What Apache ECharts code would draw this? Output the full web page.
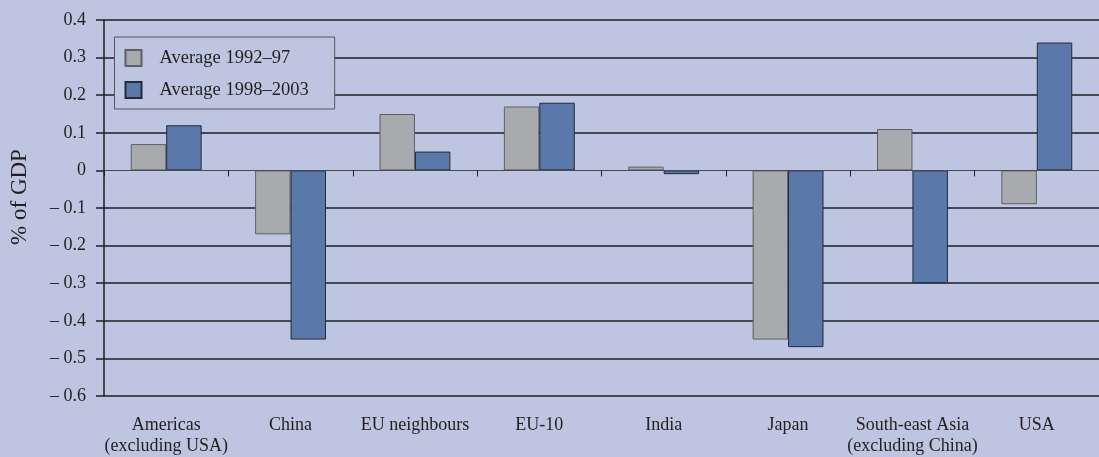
<!DOCTYPE html>
<html>
<head>
<meta charset="utf-8">
<script src="https://cdn.jsdelivr.net/npm/echarts@6/dist/echarts.min.js"></script>
<style>
  html, body { margin: 0; padding: 0; background: #bec5e0; }
  #chart { width: 1099px; height: 457px; }
</style>
</head>
<body>
<div id="chart"></div>
<script>
// Regions shown along the category axis
const categories = [
  'Americas\n(excluding USA)', 'China', 'EU neighbours', 'EU-10',
  'India', 'Japan', 'South-east Asia\n(excluding China)', 'USA'
];
// Balance as % of GDP, two averaging periods
const avg1992_97   = [0.07, -0.17, 0.15, 0.17, 0.01, -0.45, 0.11, -0.09];
const avg1998_2003 = [0.12, -0.45, 0.05, 0.18, -0.01, -0.47, -0.30, 0.34];
const seriesNames = ['Average 1992–97', 'Average 1998–2003'];
// Value axis ticks, bottom to top
const yTicks = [-0.6, -0.5, -0.4, -0.3, -0.2, -0.1, 0, 0.1, 0.2, 0.3, 0.4];

const serif = '"Liberation Serif", "DejaVu Serif", serif';
const ink = '#231f20';

// Dark gridlines everywhere except at zero, where the category axis line sits
const gridColors = yTicks.map(v => (Math.abs(v) < 1e-9 ? 'rgba(0,0,0,0)' : '#1e1e22'));

function fmtTick(v) {
  const r = Math.round(v * 10) / 10;
  if (r === 0) return '0';
  if (r < 0) return '\u2013 ' + Math.abs(r).toFixed(1);
  return r.toFixed(1);
}

const chart = echarts.init(document.getElementById('chart'), null, { renderer: 'canvas' });
chart.setOption({
  backgroundColor: '#bec5e0',
  animation: false,
  textStyle: { fontFamily: serif, color: ink },
  // the plot runs slightly past the right edge of the canvas
  grid: { left: 101.5, width: 1004, top: 20, bottom: 59, containLabel: false },
  legend: {
    orient: 'vertical',
    left: 114.5,
    top: 37,
    data: seriesNames,
    backgroundColor: '#bec5e0',
    borderColor: '#55565c',
    borderWidth: 1,
    padding: [11.5, 26, 9.5, 10],
    itemWidth: 16,
    itemHeight: 16,
    itemGap: 13,
    icon: 'rect',
    textStyle: {
      fontFamily: serif, fontSize: 18.5, color: ink,
      padding: [0, 0, 0, 13]
    }
  },
  xAxis: [
    {
      type: 'category',
      data: categories,
      axisLine: { onZero: true, lineStyle: { color: '#4a4b52', width: 1 } },
      axisTick: { show: true, inside: false, length: 6, lineStyle: { color: '#1e1e22', width: 1 } },
      axisLabel: { show: false },
      splitLine: { show: false },
      z: 5
    },
    {
      type: 'category',
      data: categories,
      position: 'bottom',
      axisLine: { show: false, onZero: false },
      axisTick: { show: false },
      axisLabel: {
        show: true,
        fontFamily: serif,
        fontSize: 18,
        color: ink,
        lineHeight: 21,
        margin: 19,
        interval: 0
      }
    }
  ],
  yAxis: {
    type: 'value',
    min: -0.6,
    max: 0.4,
    interval: 0.1,
    name: '% of GDP',
    nameLocation: 'middle',
    nameGap: 73,
    nameRotate: 90,
    nameTextStyle: {
      fontFamily: serif, fontSize: 23, color: ink,
      padding: [0, 0, 0, 22]
    },
    axisLine: { show: true, lineStyle: { color: '#1e1e22', width: 1.5 } },
    axisTick: { show: true, length: 8, lineStyle: { color: '#1e1e22', width: 1.5 } },
    axisLabel: {
      fontFamily: serif,
      fontSize: 18,
      color: ink,
      margin: 18,
      formatter: fmtTick
    },
    splitLine: { show: true, lineStyle: { color: gridColors, width: 1.5 } }
  },
  series: [
    {
      name: seriesNames[0],
      type: 'bar',
      xAxisIndex: 0,
      data: avg1992_97,
      barGap: '0%',
      barCategoryGap: '43%',
      itemStyle: { color: '#a9aaae', borderColor: '#5e5f64', borderWidth: 1 }
    },
    {
      name: seriesNames[1],
      type: 'bar',
      xAxisIndex: 0,
      data: avg1998_2003,
      barGap: '0%',
      barCategoryGap: '43%',
      itemStyle: { color: '#5a78aa', borderColor: '#242a3a', borderWidth: 1 }
    }
  ]
});
</script>
</body>
</html>
